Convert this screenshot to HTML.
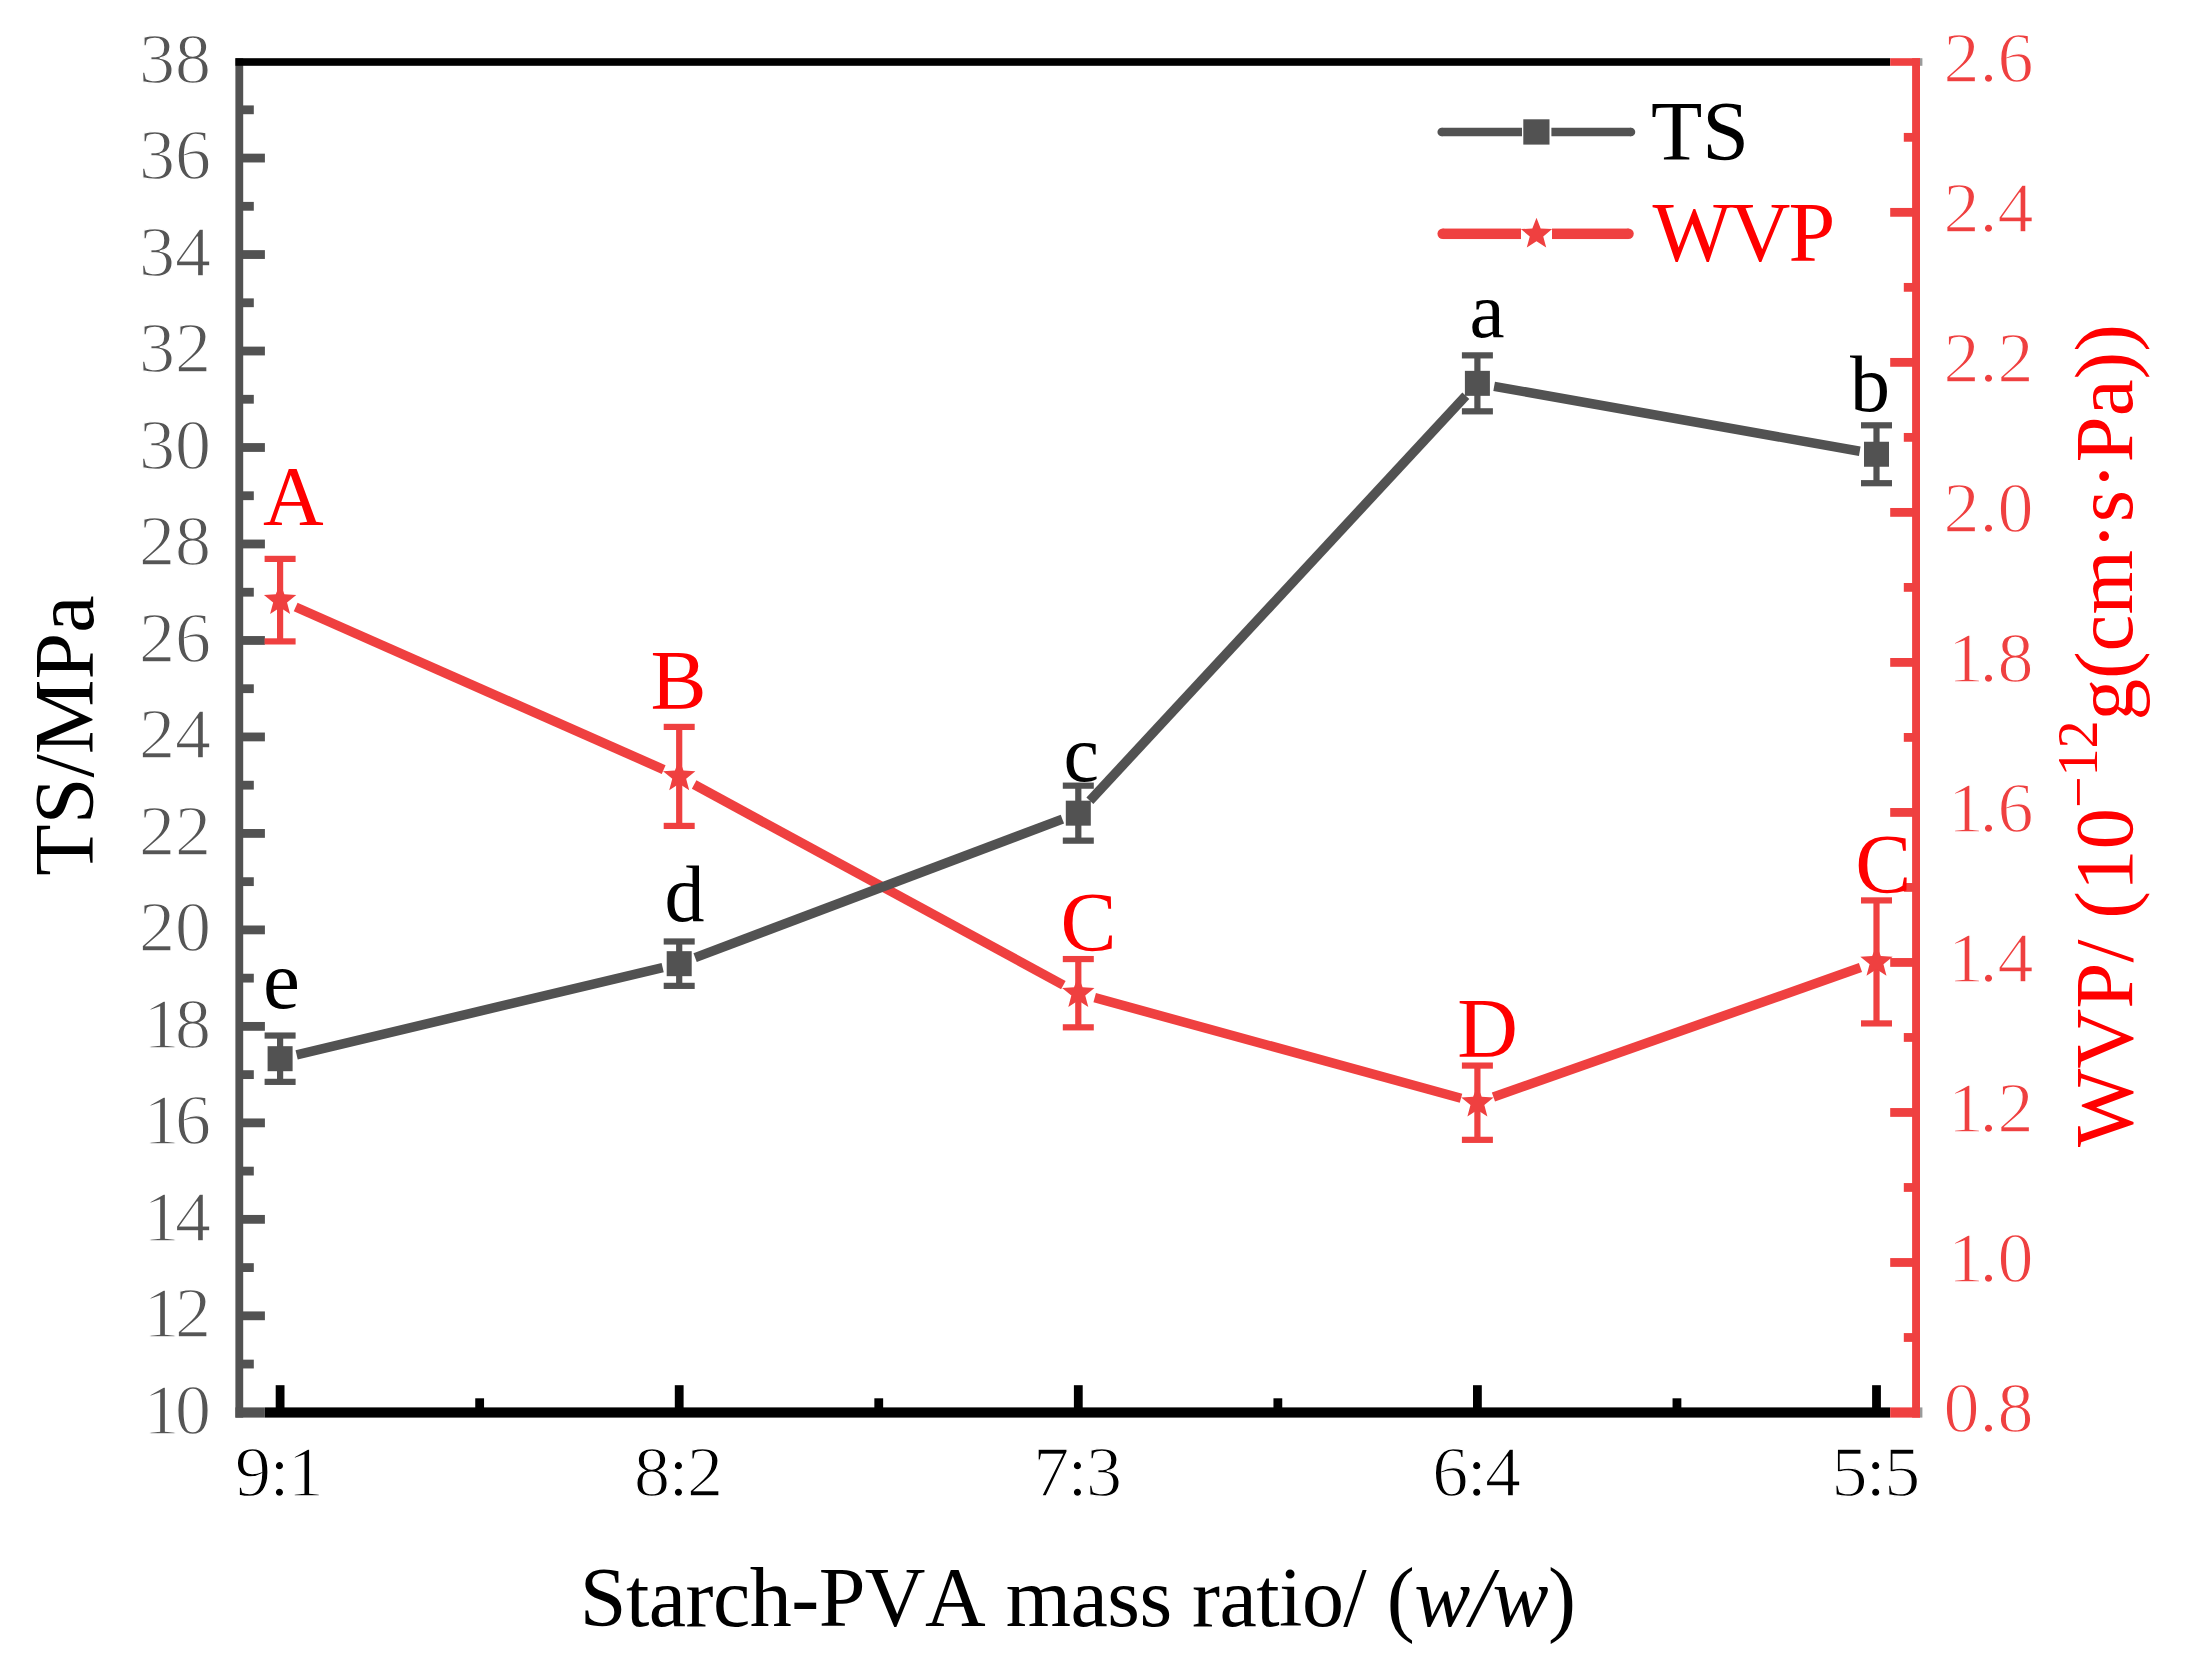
<!DOCTYPE html>
<html lang="en">
<head>
<meta charset="utf-8">
<title>TS and WVP vs Starch-PVA mass ratio</title>
<style>
html,body{margin:0;padding:0;background:#fff;}
body{width:2190px;height:1658px;overflow:hidden;}
svg{display:block;font-family:"Liberation Serif", "Times New Roman", serif;font-kerning:none;}
</style>
</head>
<body>
<svg width="2190" height="1658" viewBox="0 0 2190 1658">
<rect x="0" y="0" width="2190" height="1658" fill="#ffffff"/>
<rect x="235.40" y="58.20" width="7.80" height="1359.40" fill="#525252"/>
<rect x="1912.10" y="58.20" width="7.90" height="1359.40" fill="#EF4040"/>
<rect x="235.40" y="58.20" width="1654.80" height="7.60" fill="#000000"/>
<rect x="264.90" y="1407.40" width="1625.30" height="10.20" fill="#000000"/>
<rect x="235.40" y="1407.40" width="29.50" height="10.20" fill="#525252"/>
<rect x="1890.20" y="58.20" width="29.80" height="7.60" fill="#EF4040"/>
<rect x="1890.20" y="1407.40" width="29.80" height="10.20" fill="#EF4040"/>
<rect x="1920.00" y="58.20" width="2.40" height="7.60" fill="#9a9a9a"/>
<rect x="1920.00" y="1407.40" width="2.40" height="10.20" fill="#9a9a9a"/>
<rect x="242.20" y="1359.66" width="11.60" height="8.80" fill="#525252"/>
<rect x="242.20" y="1311.42" width="22.70" height="8.80" fill="#525252"/>
<rect x="242.20" y="1263.18" width="11.60" height="8.80" fill="#525252"/>
<rect x="242.20" y="1214.94" width="22.70" height="8.80" fill="#525252"/>
<rect x="242.20" y="1166.70" width="11.60" height="8.80" fill="#525252"/>
<rect x="242.20" y="1118.46" width="22.70" height="8.80" fill="#525252"/>
<rect x="242.20" y="1070.22" width="11.60" height="8.80" fill="#525252"/>
<rect x="242.20" y="1021.98" width="22.70" height="8.80" fill="#525252"/>
<rect x="242.20" y="973.74" width="11.60" height="8.80" fill="#525252"/>
<rect x="242.20" y="925.50" width="22.70" height="8.80" fill="#525252"/>
<rect x="242.20" y="877.26" width="11.60" height="8.80" fill="#525252"/>
<rect x="242.20" y="829.02" width="22.70" height="8.80" fill="#525252"/>
<rect x="242.20" y="780.78" width="11.60" height="8.80" fill="#525252"/>
<rect x="242.20" y="732.54" width="22.70" height="8.80" fill="#525252"/>
<rect x="242.20" y="684.30" width="11.60" height="8.80" fill="#525252"/>
<rect x="242.20" y="636.06" width="22.70" height="8.80" fill="#525252"/>
<rect x="242.20" y="587.82" width="11.60" height="8.80" fill="#525252"/>
<rect x="242.20" y="539.58" width="22.70" height="8.80" fill="#525252"/>
<rect x="242.20" y="491.34" width="11.60" height="8.80" fill="#525252"/>
<rect x="242.20" y="443.10" width="22.70" height="8.80" fill="#525252"/>
<rect x="242.20" y="394.86" width="11.60" height="8.80" fill="#525252"/>
<rect x="242.20" y="346.62" width="22.70" height="8.80" fill="#525252"/>
<rect x="242.20" y="298.38" width="11.60" height="8.80" fill="#525252"/>
<rect x="242.20" y="250.14" width="22.70" height="8.80" fill="#525252"/>
<rect x="242.20" y="201.90" width="11.60" height="8.80" fill="#525252"/>
<rect x="242.20" y="153.66" width="22.70" height="8.80" fill="#525252"/>
<rect x="242.20" y="105.42" width="11.60" height="8.80" fill="#525252"/>
<text x="143.5 175.0" y="1433.60" font-size="72" fill="#555555" stroke="#ffffff" stroke-width="1.3" paint-order="fill">10</text>
<text x="143.5 175.0" y="1337.12" font-size="72" fill="#555555" stroke="#ffffff" stroke-width="1.3" paint-order="fill">12</text>
<text x="143.5 175.0" y="1240.64" font-size="72" fill="#555555" stroke="#ffffff" stroke-width="1.3" paint-order="fill">14</text>
<text x="143.5 175.0" y="1144.16" font-size="72" fill="#555555" stroke="#ffffff" stroke-width="1.3" paint-order="fill">16</text>
<text x="143.5 175.0" y="1047.68" font-size="72" fill="#555555" stroke="#ffffff" stroke-width="1.3" paint-order="fill">18</text>
<text x="139.0 175.0" y="951.20" font-size="72" fill="#555555" stroke="#ffffff" stroke-width="1.3" paint-order="fill">20</text>
<text x="139.0 175.0" y="854.72" font-size="72" fill="#555555" stroke="#ffffff" stroke-width="1.3" paint-order="fill">22</text>
<text x="139.0 175.0" y="758.24" font-size="72" fill="#555555" stroke="#ffffff" stroke-width="1.3" paint-order="fill">24</text>
<text x="139.0 175.0" y="661.76" font-size="72" fill="#555555" stroke="#ffffff" stroke-width="1.3" paint-order="fill">26</text>
<text x="139.0 175.0" y="565.28" font-size="72" fill="#555555" stroke="#ffffff" stroke-width="1.3" paint-order="fill">28</text>
<text x="139.0 175.0" y="468.80" font-size="72" fill="#555555" stroke="#ffffff" stroke-width="1.3" paint-order="fill">30</text>
<text x="139.0 175.0" y="372.32" font-size="72" fill="#555555" stroke="#ffffff" stroke-width="1.3" paint-order="fill">32</text>
<text x="139.0 175.0" y="275.84" font-size="72" fill="#555555" stroke="#ffffff" stroke-width="1.3" paint-order="fill">34</text>
<text x="139.0 175.0" y="179.36" font-size="72" fill="#555555" stroke="#ffffff" stroke-width="1.3" paint-order="fill">36</text>
<text x="139.0 175.0" y="82.88" font-size="72" fill="#555555" stroke="#ffffff" stroke-width="1.3" paint-order="fill">38</text>
<rect x="1903.80" y="1333.09" width="9.30" height="8.80" fill="#EF4040"/>
<rect x="1890.20" y="1258.08" width="22.90" height="8.80" fill="#EF4040"/>
<rect x="1903.80" y="1183.07" width="9.30" height="8.80" fill="#EF4040"/>
<rect x="1890.20" y="1108.06" width="22.90" height="8.80" fill="#EF4040"/>
<rect x="1903.80" y="1033.05" width="9.30" height="8.80" fill="#EF4040"/>
<rect x="1890.20" y="958.04" width="22.90" height="8.80" fill="#EF4040"/>
<rect x="1903.80" y="883.03" width="9.30" height="8.80" fill="#EF4040"/>
<rect x="1890.20" y="808.02" width="22.90" height="8.80" fill="#EF4040"/>
<rect x="1903.80" y="733.01" width="9.30" height="8.80" fill="#EF4040"/>
<rect x="1890.20" y="658.00" width="22.90" height="8.80" fill="#EF4040"/>
<rect x="1903.80" y="582.99" width="9.30" height="8.80" fill="#EF4040"/>
<rect x="1890.20" y="507.98" width="22.90" height="8.80" fill="#EF4040"/>
<rect x="1903.80" y="432.97" width="9.30" height="8.80" fill="#EF4040"/>
<rect x="1890.20" y="357.96" width="22.90" height="8.80" fill="#EF4040"/>
<rect x="1903.80" y="282.95" width="9.30" height="8.80" fill="#EF4040"/>
<rect x="1890.20" y="207.94" width="22.90" height="8.80" fill="#EF4040"/>
<rect x="1903.80" y="132.93" width="9.30" height="8.80" fill="#EF4040"/>
<text x="1943.5 1979.5 1997.5" y="1432.30" font-size="72" fill="#EF4040" stroke="#ffffff" stroke-width="1.3" paint-order="fill">0.8</text>
<text x="1948.0 1979.5 1997.5" y="1282.28" font-size="72" fill="#EF4040" stroke="#ffffff" stroke-width="1.3" paint-order="fill">1.0</text>
<text x="1948.0 1979.5 1997.5" y="1132.26" font-size="72" fill="#EF4040" stroke="#ffffff" stroke-width="1.3" paint-order="fill">1.2</text>
<text x="1948.0 1979.5 1997.5" y="982.24" font-size="72" fill="#EF4040" stroke="#ffffff" stroke-width="1.3" paint-order="fill">1.4</text>
<text x="1948.0 1979.5 1997.5" y="832.22" font-size="72" fill="#EF4040" stroke="#ffffff" stroke-width="1.3" paint-order="fill">1.6</text>
<text x="1948.0 1979.5 1997.5" y="682.20" font-size="72" fill="#EF4040" stroke="#ffffff" stroke-width="1.3" paint-order="fill">1.8</text>
<text x="1943.5 1979.5 1997.5" y="532.18" font-size="72" fill="#EF4040" stroke="#ffffff" stroke-width="1.3" paint-order="fill">2.0</text>
<text x="1943.5 1979.5 1997.5" y="382.16" font-size="72" fill="#EF4040" stroke="#ffffff" stroke-width="1.3" paint-order="fill">2.2</text>
<text x="1943.5 1979.5 1997.5" y="232.14" font-size="72" fill="#EF4040" stroke="#ffffff" stroke-width="1.3" paint-order="fill">2.4</text>
<text x="1943.5 1979.5 1997.5" y="82.12" font-size="72" fill="#EF4040" stroke="#ffffff" stroke-width="1.3" paint-order="fill">2.6</text>
<rect x="275.70" y="1385.20" width="8.80" height="23.20" fill="#000000"/>
<rect x="475.25" y="1398.30" width="8.80" height="10.10" fill="#000000"/>
<text x="278.60" y="1495.50" font-size="72" fill="#000000" text-anchor="middle" letter-spacing="-1.6" stroke="#ffffff" stroke-width="1.3" paint-order="fill">9:1</text>
<rect x="674.80" y="1385.20" width="8.80" height="23.20" fill="#000000"/>
<rect x="874.35" y="1398.30" width="8.80" height="10.10" fill="#000000"/>
<text x="677.70" y="1495.50" font-size="72" fill="#000000" text-anchor="middle" letter-spacing="-1.6" stroke="#ffffff" stroke-width="1.3" paint-order="fill">8:2</text>
<rect x="1073.90" y="1385.20" width="8.80" height="23.20" fill="#000000"/>
<rect x="1273.45" y="1398.30" width="8.80" height="10.10" fill="#000000"/>
<text x="1076.80" y="1495.50" font-size="72" fill="#000000" text-anchor="middle" letter-spacing="-1.6" stroke="#ffffff" stroke-width="1.3" paint-order="fill">7:3</text>
<rect x="1473.00" y="1385.20" width="8.80" height="23.20" fill="#000000"/>
<rect x="1672.55" y="1398.30" width="8.80" height="10.10" fill="#000000"/>
<text x="1475.90" y="1495.50" font-size="72" fill="#000000" text-anchor="middle" letter-spacing="-1.6" stroke="#ffffff" stroke-width="1.3" paint-order="fill">6:4</text>
<rect x="1872.10" y="1385.20" width="8.80" height="23.20" fill="#000000"/>
<text x="1875.00" y="1495.50" font-size="72" fill="#000000" text-anchor="middle" letter-spacing="-1.6" stroke="#ffffff" stroke-width="1.3" paint-order="fill">5:5</text>
<line x1="295.65" y1="607.01" x2="663.65" y2="769.55" stroke="#EF4040" stroke-width="9.5" stroke-linecap="butt"/>
<line x1="694.14" y1="784.53" x2="1063.36" y2="985.08" stroke="#EF4040" stroke-width="9.5" stroke-linecap="butt"/>
<line x1="1094.69" y1="997.69" x2="1461.01" y2="1098.21" stroke="#EF4040" stroke-width="9.5" stroke-linecap="butt"/>
<line x1="1493.43" y1="1097.05" x2="1860.47" y2="967.57" stroke="#EF4040" stroke-width="9.5" stroke-linecap="butt"/>
<line x1="296.64" y1="1054.76" x2="662.66" y2="967.61" stroke="#525252" stroke-width="9.5" stroke-linecap="butt"/>
<line x1="695.11" y1="957.67" x2="1062.39" y2="819.16" stroke="#525252" stroke-width="9.5" stroke-linecap="butt"/>
<line x1="1089.87" y1="800.70" x2="1465.83" y2="395.80" stroke="#525252" stroke-width="9.5" stroke-linecap="butt"/>
<line x1="1494.14" y1="386.31" x2="1859.76" y2="451.28" stroke="#525252" stroke-width="9.5" stroke-linecap="butt"/>
<rect x="277.00" y="558.89" width="6.20" height="82.51" fill="#EF4040"/>
<rect x="264.60" y="555.79" width="31.00" height="6.20" fill="#EF4040"/>
<rect x="264.60" y="638.30" width="31.00" height="6.20" fill="#EF4040"/>
<polygon points="280.10,583.14 284.40,594.23 296.27,594.89 287.05,602.40 290.09,613.89 280.10,607.45 270.11,613.89 273.15,602.40 263.93,594.89 275.80,594.23" fill="#EF4040"/>
<rect x="676.10" y="726.91" width="6.20" height="99.01" fill="#EF4040"/>
<rect x="663.70" y="723.81" width="31.00" height="6.20" fill="#EF4040"/>
<rect x="663.70" y="822.82" width="31.00" height="6.20" fill="#EF4040"/>
<polygon points="679.20,759.42 683.50,770.50 695.37,771.16 686.15,778.67 689.19,790.17 679.20,783.73 669.21,790.17 672.25,778.67 663.03,771.16 674.90,770.50" fill="#EF4040"/>
<rect x="1075.20" y="959.06" width="6.20" height="68.26" fill="#EF4040"/>
<rect x="1062.80" y="955.96" width="31.00" height="6.20" fill="#EF4040"/>
<rect x="1062.80" y="1024.22" width="31.00" height="6.20" fill="#EF4040"/>
<polygon points="1078.30,976.19 1082.60,987.28 1094.47,987.94 1085.25,995.45 1088.29,1006.95 1078.30,1000.50 1068.31,1006.95 1071.35,995.45 1062.13,987.94 1074.00,987.28" fill="#EF4040"/>
<rect x="1474.30" y="1065.58" width="6.20" height="74.26" fill="#EF4040"/>
<rect x="1461.90" y="1062.48" width="31.00" height="6.20" fill="#EF4040"/>
<rect x="1461.90" y="1136.74" width="31.00" height="6.20" fill="#EF4040"/>
<polygon points="1477.40,1085.71 1481.70,1096.79 1493.57,1097.46 1484.35,1104.97 1487.39,1116.46 1477.40,1110.02 1467.41,1116.46 1470.45,1104.97 1461.23,1097.46 1473.10,1096.79" fill="#EF4040"/>
<rect x="1873.40" y="900.41" width="6.20" height="123.02" fill="#EF4040"/>
<rect x="1861.00" y="897.31" width="31.00" height="6.20" fill="#EF4040"/>
<rect x="1861.00" y="1020.32" width="31.00" height="6.20" fill="#EF4040"/>
<polygon points="1876.50,944.91 1880.80,956.00 1892.67,956.66 1883.45,964.17 1886.49,975.67 1876.50,969.22 1866.51,975.67 1869.55,964.17 1860.33,956.66 1872.20,956.00" fill="#EF4040"/>
<rect x="277.00" y="1035.55" width="6.20" height="46.31" fill="#525252"/>
<rect x="264.60" y="1032.45" width="31.00" height="6.20" fill="#525252"/>
<rect x="264.60" y="1078.76" width="31.00" height="6.20" fill="#525252"/>
<rect x="267.60" y="1046.20" width="25.00" height="25.00" fill="#525252"/>
<rect x="676.10" y="941.48" width="6.20" height="44.38" fill="#525252"/>
<rect x="663.70" y="938.38" width="31.00" height="6.20" fill="#525252"/>
<rect x="663.70" y="982.76" width="31.00" height="6.20" fill="#525252"/>
<rect x="666.70" y="951.17" width="25.00" height="25.00" fill="#525252"/>
<rect x="1075.20" y="785.66" width="6.20" height="54.99" fill="#525252"/>
<rect x="1062.80" y="782.56" width="31.00" height="6.20" fill="#525252"/>
<rect x="1062.80" y="837.56" width="31.00" height="6.20" fill="#525252"/>
<rect x="1065.80" y="800.66" width="25.00" height="25.00" fill="#525252"/>
<rect x="1474.30" y="355.36" width="6.20" height="55.96" fill="#525252"/>
<rect x="1461.90" y="352.26" width="31.00" height="6.20" fill="#525252"/>
<rect x="1461.90" y="408.22" width="31.00" height="6.20" fill="#525252"/>
<rect x="1464.90" y="370.84" width="25.00" height="25.00" fill="#525252"/>
<rect x="1873.40" y="425.31" width="6.20" height="57.89" fill="#525252"/>
<rect x="1861.00" y="422.21" width="31.00" height="6.20" fill="#525252"/>
<rect x="1861.00" y="480.10" width="31.00" height="6.20" fill="#525252"/>
<rect x="1864.00" y="441.75" width="25.00" height="25.00" fill="#525252"/>
<text x="263.10" y="1007.70" font-size="83" fill="#000000" text-anchor="start" >e</text>
<text x="664.50" y="921.20" font-size="80" fill="#000000" text-anchor="start" >d</text>
<text x="1063.50" y="781.20" font-size="80" fill="#000000" text-anchor="start" >c</text>
<text x="1469.50" y="337.20" font-size="79" fill="#000000" text-anchor="start" >a</text>
<text x="1850.00" y="410.70" font-size="80" fill="#000000" text-anchor="start" >b</text>
<text x="263.00" y="524.50" font-size="84" fill="#FF0000" text-anchor="start" >A</text>
<text x="650.50" y="708.50" font-size="84" fill="#FF0000" text-anchor="start" >B</text>
<text x="1060.60" y="951.00" font-size="84" fill="#FF0000" text-anchor="start" >C</text>
<text x="1457.20" y="1057.30" font-size="84" fill="#FF0000" text-anchor="start" >D</text>
<text x="1855.30" y="892.50" font-size="84" fill="#FF0000" text-anchor="start" >C</text>
<rect x="1441.70" y="127.75" width="80.30" height="8.50" fill="#525252"/>
<circle cx="1441.70" cy="132.00" r="4.25" fill="#525252"/>
<rect x="1551.40" y="127.75" width="79.60" height="8.50" fill="#525252"/>
<circle cx="1631.00" cy="132.00" r="4.25" fill="#525252"/>
<rect x="1523.30" y="119.30" width="26.20" height="25.30" fill="#525252"/>
<text x="1651.00" y="160.40" font-size="84" fill="#000000" text-anchor="start" >TS</text>
<rect x="1442.70" y="228.55" width="78.30" height="10.50" fill="#EF4040"/>
<circle cx="1442.70" cy="233.80" r="5.25" fill="#EF4040"/>
<rect x="1552.00" y="228.55" width="76.50" height="10.50" fill="#EF4040"/>
<circle cx="1628.50" cy="233.80" r="5.25" fill="#EF4040"/>
<polygon points="1536.50,217.70 1540.67,228.46 1552.19,229.10 1543.25,236.39 1546.20,247.55 1536.50,241.29 1526.80,247.55 1529.75,236.39 1520.81,229.10 1532.33,228.46" fill="#EF4040"/>
<text x="1652.50" y="260.80" font-size="84" fill="#FF0000" text-anchor="start" letter-spacing="-2">WVP</text>
<text x="1077.60" y="1626.30" font-size="84" fill="#000000" text-anchor="middle" letter-spacing="-0.52">Starch-PVA mass ratio/ (<tspan font-style="italic">w/w</tspan>)</text>
<text transform="translate(93.0,735.6) rotate(-90)" font-size="84" fill="#000000" text-anchor="middle">TS/MPa</text>
<text transform="translate(2131.7,1147) rotate(-90)" font-size="83" fill="#FF0000" text-anchor="start">WVP/ (10<tspan font-size="56" dy="-35">−12</tspan><tspan dy="35">g(cm·s·Pa))</tspan></text>
</svg>
</body>
</html>
